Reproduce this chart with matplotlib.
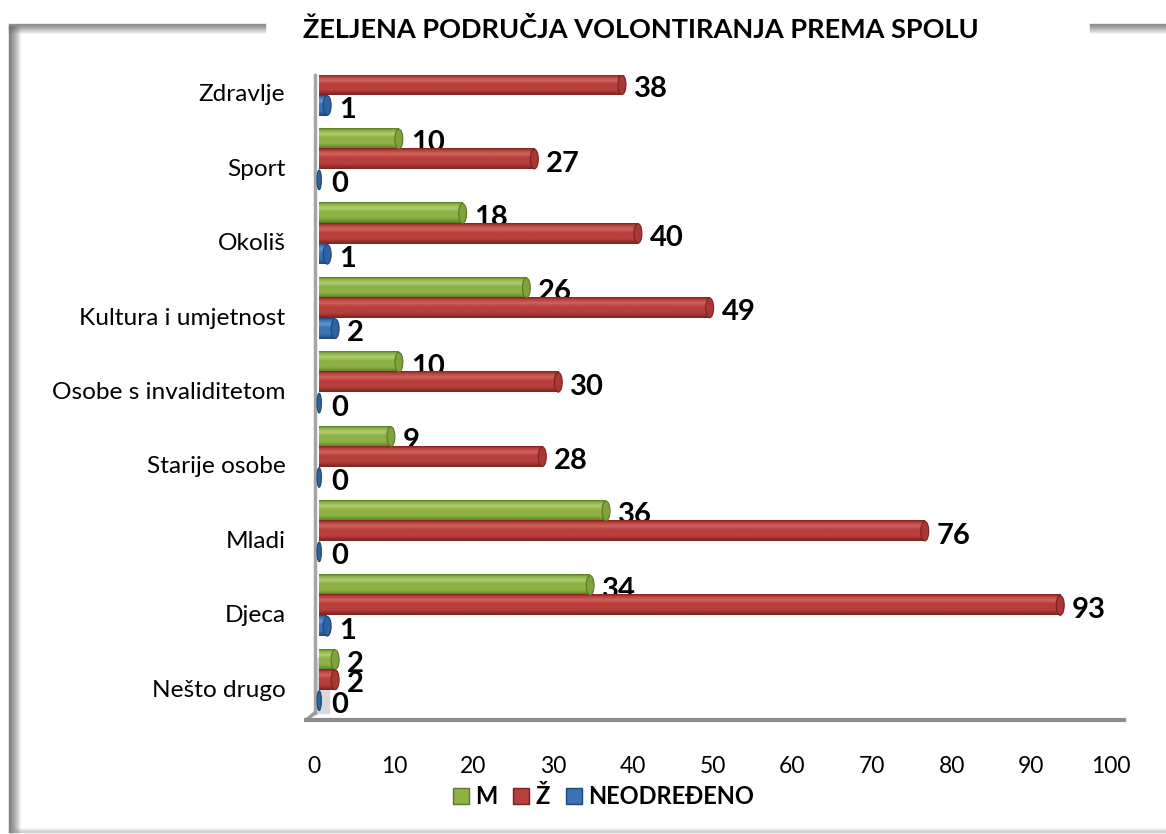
import numpy as np
import matplotlib
matplotlib.use("Agg")
import matplotlib.pyplot as plt
from matplotlib.patches import Ellipse
from matplotlib.colors import LinearSegmentedColormap
from matplotlib.lines import Line2D
from matplotlib.transforms import ScaledTranslation

plt.rcParams['font.family'] = ['Lato', 'DejaVu Sans']

# ---- data (top to bottom as shown) ----
categories = ["Zdravlje", "Sport", "Okoliš", "Kultura i umjetnost",
              "Osobe s invaliditetom", "Starije osobe", "Mladi", "Djeca", "Nešto drugo"]
values_m = [12, 10, 18, 26, 10, 9, 36, 34, 2]
values_z = [38, 27, 40, 49, 30, 28, 76, 93, 2]
values_n = [1, 0, 1, 2, 0, 0, 0, 1, 0]
series_names = ["M", "Ž", "NEODREĐENO"]
xticks = list(range(0, 101, 10))
title = "ŽELJENA PODRUČJA VOLONTIRANJA PREMA SPOLU"

# ---- styles ----
styles = {
    "M": dict(base="#8DB244", light="#B0CD72", dark="#5A7A22", cap="#7FA23C", off=0.27),
    "Ž": dict(base="#B83F3B", light="#D06460", dark="#7A2220", cap="#A93733", off=0.0),
    "NEODREĐENO": dict(base="#3B73B6", light="#6296D2", dark="#1E4678", cap="#2F62A0", off=-0.28),
}
bar_h = 0.27

fig = plt.figure(figsize=(11.66, 8.34), dpi=100)
ax = fig.add_axes([316/1166, 1-720/834, 800/1166, 645/834])
ax.set_facecolor("none")

n = len(categories)
ypos = np.arange(n)[::-1]  # Zdravlje top


def draw_series(name, vals):
    st = styles[name]
    cmap = LinearSegmentedColormap.from_list(
        name + "_g", [(0.0, st["dark"]), (0.25, st["base"]), (0.55, st["base"]),
                      (0.72, st["light"]), (0.9, st["base"]), (1.0, st["dark"])])
    grad = np.linspace(0, 1, 64).reshape(-1, 1)
    ys = ypos + st["off"]
    cont = ax.barh(ys, vals, height=bar_h, color=st["base"], linewidth=0, zorder=3)
    for patch, v in zip(cont.patches, vals):
        x0, y0 = patch.get_x(), patch.get_y()
        w, h = patch.get_width(), patch.get_height()
        if w > 0:
            ax.imshow(grad, extent=[x0, x0 + w, y0, y0 + h], origin="lower",
                      aspect="auto", cmap=cmap, zorder=3.1, interpolation="bilinear")
        ew = 1.0 if w > 0 else 0.55
        cap = Ellipse((x0 + w, y0 + h / 2), width=ew, height=h * 0.98,
                      facecolor=st["cap"], edgecolor=st["dark"], linewidth=0.8, zorder=3.2)
        ax.add_patch(cap)
        ax.text(x0 + w + 1.5, y0 + h / 2 - 0.06, f"{v}", fontsize=21, fontweight="bold",
                ha="left", va="center", color="black", zorder=2, clip_on=True)
    return cont


draw_series("M", values_m)
draw_series("Ž", values_z)
draw_series("NEODREĐENO", values_n)

ax.set_xlim(-0.4, 99.4)
ax.set_ylim(-0.54, 8.13)
ax.set_xticks(xticks)
ax.set_xticklabels([str(t) for t in xticks], fontsize=16.5)
ax.set_yticks(ypos - 0.11)
ax.set_yticklabels(categories, fontsize=17.6)
ax.tick_params(axis="both", length=0)
ax.tick_params(axis="x", pad=26)
ax.tick_params(axis="y", pad=22)
shift = ScaledTranslation(-5/100, 0, fig.dpi_scale_trans)
for lab in ax.get_xticklabels():
    lab.set_transform(lab.get_transform() + shift)
for s in ax.spines.values():
    s.set_visible(False)

# 3D-like walls/floor
ax.plot([-0.5, -0.5], [-0.44, 8.13], color="#A6A6A6", lw=2.5, clip_on=False, zorder=1)
ax.plot([-0.5, -1.6], [-0.44, -0.54], color="#9A9A9A", lw=2.5, clip_on=False, zorder=1)
ax.plot([-1.6, 101.0], [-0.54, -0.54], color="#8C8C8C", lw=3, clip_on=False, zorder=1)
ax.fill([-0.5, 1.2, 1.2, -0.5], [-0.44, -0.44, 0.3, 0.3], color="#D9D9D9", zorder=0.5)

# title
fig.text(0.55, 1-30/834, title, fontsize=19.5, fontweight="bold", ha="center", va="center",
         bbox=dict(facecolor="white", edgecolor="none", pad=6), zorder=10)

# legend
handles = [Line2D([], [], marker="s", linestyle="none", markersize=12,
                  markerfacecolor=styles[s]["base"], markeredgecolor=styles[s]["dark"])
           for s in series_names]
fig.legend(handles, series_names, loc="center", bbox_to_anchor=(0.516, 1-797/834), ncol=3,
           frameon=False, prop=dict(size=17, weight="bold"), handletextpad=0.1,
           columnspacing=0.5, handlelength=1.0)

# frame (shadowed border)
for i, a in enumerate(np.linspace(0.85, 0.05, 12)):
    fig.add_artist(Line2D([(9 + i) / 1166] * 2, [2/834, 1 - 26/834], color="#707070",
                          alpha=a, lw=1))
for i, a in enumerate(np.linspace(0.75, 0.05, 10)):
    yv = 1 - (24 + i) / 834
    fig.add_artist(Line2D([9/1166, 265/1166], [yv, yv], color="#707070", alpha=a, lw=1))
    fig.add_artist(Line2D([1090/1166, 1.0], [yv, yv], color="#707070", alpha=a, lw=1))
for i, a in enumerate(np.linspace(0.05, 0.4, 5)):
    yv = (1 + 5 - i) / 834
    fig.add_artist(Line2D([9/1166, 1.0], [yv, yv], color="#909090", alpha=a, lw=1))

fig.savefig("out.png", dpi=100)
